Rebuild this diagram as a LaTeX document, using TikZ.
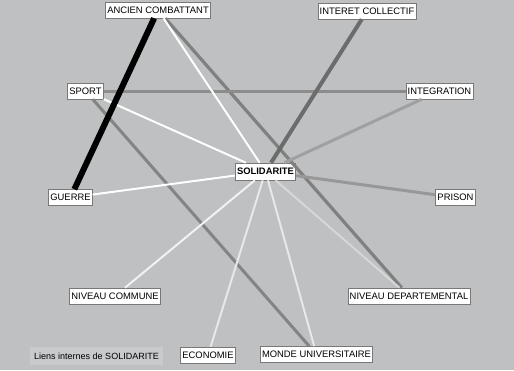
\documentclass[tikz,border=0pt]{standalone}
\usepackage{fontspec}
\setmainfont{Liberation Sans}
\definecolor{bg}{RGB}{190,192,193}
\definecolor{legbg}{RGB}{200,202,203}
\definecolor{boxline}{RGB}{120,120,120}
\begin{document}
\begin{tikzpicture}[x=1pt,y=-1pt,
  word/.style={draw=boxline,line width=0.6pt,fill=white,inner xsep=1.8pt,inner ysep=0pt,
    font=\fontsize{9.4}{10}\selectfont,minimum height=16pt,text height=6.8pt,text depth=0pt},
  hub/.style={word,font=\fontsize{9.4}{10}\selectfont\bfseries,minimum height=17pt},
  legend/.style={fill=legbg,inner xsep=4pt,font=\fontsize{9}{10}\selectfont,minimum height=18pt},
  lnk/.style={line width=#1}
]
\fill[bg] (0,0) rectangle (514,370);
\useasboundingbox (0,0) rectangle (514,370);

\node[word] (ac) at (158,10) {ANCIEN COMBATTANT};
\node[word] (ic) at (367,11) {INTERET COLLECTIF};
\node[word] (sp) at (85.5,91) {SPORT};
\node[word] (ig) at (439.5,91) {INTEGRATION};
\node[hub] (so) at (265.5,171.5) {SOLIDARITE};
\node[word] (gu) at (70.5,197.5) {GUERRE};
\node[word] (pr) at (455.5,197.5) {PRISON};
\node[word] (nc) at (115,296) {NIVEAU COMMUNE};
\node[word] (nd) at (409,296) {NIVEAU DEPARTEMENTAL};
\node[word] (ec) at (208,355) {ECONOMIE};
\node[word] (mu) at (316.5,354.5) {MONDE UNIVERSITAIRE};
\node[legend] (lg) at (96.5,356) {Liens internes de SOLIDARITE};

% grey links
\draw[lnk=3.2pt,color={rgb,255:red,128;green,128;blue,128}] (ac) -- (nd);
\draw[lnk=3pt,color={rgb,255:red,140;green,140;blue,140}] (sp) -- (ig);
\draw[lnk=3pt,color={rgb,255:red,132;green,132;blue,132}] (sp) -- (mu);
\draw[lnk=3pt,color={rgb,255:red,160;green,160;blue,160}] (ig) -- (so);
\draw[lnk=3pt,color={rgb,255:red,152;green,152;blue,152}] (pr) -- (so);
\draw[lnk=4pt,color={rgb,255:red,108;green,108;blue,108}] (ic) -- (so);
% light links
\draw[lnk=2pt,color={rgb,255:red,215;green,215;blue,215}] (nd) -- (so);
\draw[lnk=2pt,color={rgb,255:red,232;green,232;blue,232}] (ec) -- (so);
\draw[lnk=2pt,color={rgb,255:red,232;green,232;blue,232}] (mu) -- (so);
\draw[lnk=2pt,color={rgb,255:red,242;green,242;blue,242}] (nc) -- (so);
\draw[lnk=2pt,white] (ac) -- (so);
\draw[lnk=2pt,white] (sp) -- (so);
\draw[lnk=2pt,white] (gu) -- (so);
% strongest
\draw[lnk=6pt,black] (ac) -- (gu);
\end{tikzpicture}
\end{document}
